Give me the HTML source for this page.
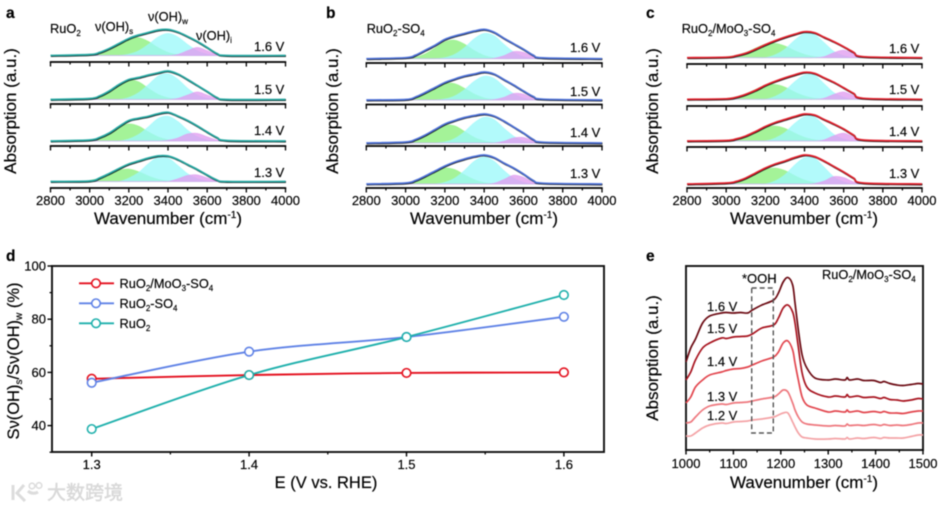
<!DOCTYPE html>
<html lang="en">
<head>
<meta charset="utf-8">
<title>Absorption spectra chart</title>
<style>
html,body{margin:0;padding:0;background:#fff;width:945px;height:509px;overflow:hidden}
svg{display:block;font-family:"Liberation Sans","Noto Sans CJK SC",sans-serif;fill:#000;filter:blur(0.4px)}
text{stroke:#000;stroke-width:.18px}
.tick{font-size:13px}
.title{font-size:17px}
.lab{font-size:12.8px}
.letter{font-size:15.5px;font-weight:bold}
</style>
</head>
<body>
<svg id="chart" xmlns="http://www.w3.org/2000/svg" width="945" height="509" viewBox="0 0 945 509">
  <g id="marks"></g>

  <text class="letter" x="6" y="18">a</text>
  <text class="letter" x="326" y="18">b</text>
  <text class="letter" x="646" y="18">c</text>
  <text class="letter" x="6" y="261">d</text>
  <text class="letter" x="646" y="261">e</text>

  <text class="title" transform="translate(16,111) rotate(-90)" text-anchor="middle">Absorption (a.u.)</text>
  <text class="title" transform="translate(338,111) rotate(-90)" text-anchor="middle">Absorption (a.u.)</text>
  <text class="title" transform="translate(658,111) rotate(-90)" text-anchor="middle">Absorption (a.u.)</text>
  <text class="title" transform="translate(658,358) rotate(-90)" text-anchor="middle">Absorption (a.u.)</text>
  <text class="title" style="font-size:16.5px" transform="translate(19,361) rotate(-90)" text-anchor="middle">Sν(OH)<tspan font-size="10" dy="3">s</tspan><tspan dy="-3">/Sν(OH)</tspan><tspan font-size="10" dy="3">w</tspan><tspan dy="-3"> (%)</tspan></text>

  <text class="title" x="168" y="224" text-anchor="middle">Wavenumber (cm<tspan font-size="10" dy="-6">-1</tspan><tspan dy="6">)</tspan></text>
  <text class="title" x="484" y="224" text-anchor="middle">Wavenumber (cm<tspan font-size="10" dy="-6">-1</tspan><tspan dy="6">)</tspan></text>
  <text class="title" x="804" y="224" text-anchor="middle">Wavenumber (cm<tspan font-size="10" dy="-6">-1</tspan><tspan dy="6">)</tspan></text>
  <text class="title" x="804" y="488" text-anchor="middle">Wavenumber (cm<tspan font-size="10" dy="-6">-1</tspan><tspan dy="6">)</tspan></text>
  <text class="title" style="font-size:16.5px" x="326" y="488" text-anchor="middle">E (V vs. RHE)</text>

  <text class="lab" x="50" y="33">RuO<tspan font-size="8" dy="3">2</tspan></text>
  <text class="lab" x="95" y="31">ν(OH)<tspan font-size="8" dy="3">s</tspan></text>
  <text class="lab" x="148" y="21">ν(OH)<tspan font-size="8" dy="3">w</tspan></text>
  <text class="lab" x="196" y="40">ν(OH)<tspan font-size="8" dy="3">i</tspan></text>
  <text class="lab" x="366.7" y="33">RuO<tspan font-size="8" dy="3">2</tspan><tspan dy="-3">-SO</tspan><tspan font-size="8" dy="3">4</tspan></text>
  <text class="lab" x="681.7" y="33">RuO<tspan font-size="8" dy="3">2</tspan><tspan dy="-3">/MoO</tspan><tspan font-size="8" dy="3">3</tspan><tspan dy="-3">-SO</tspan><tspan font-size="8" dy="3">4</tspan></text>

  <text class="lab" x="119.5" y="288">RuO<tspan font-size="8" dy="3">2</tspan><tspan dy="-3">/MoO</tspan><tspan font-size="8" dy="3">3</tspan><tspan dy="-3">-SO</tspan><tspan font-size="8" dy="3">4</tspan></text>
  <text class="lab" x="119.5" y="308">RuO<tspan font-size="8" dy="3">2</tspan><tspan dy="-3">-SO</tspan><tspan font-size="8" dy="3">4</tspan></text>
  <text class="lab" x="119.5" y="328">RuO<tspan font-size="8" dy="3">2</tspan></text>

  <text class="lab" x="822" y="279">RuO<tspan font-size="8" dy="3">2</tspan><tspan dy="-3">/MoO</tspan><tspan font-size="8" dy="3">3</tspan><tspan dy="-3">-SO</tspan><tspan font-size="8" dy="3">4</tspan></text>
  <text class="lab" style="font-size:13px" x="742" y="283">*OOH</text>
  <rect x="751.7" y="288" width="21.6" height="145" fill="none" stroke="#555" stroke-width="1.4" stroke-dasharray="5 3"/>

  <g>
    <path d="M13 485v15M24 485l-7 8 8 8M28 491a8 8 0 0 0 10 1" fill="none" stroke="#dcdcdc" stroke-width="3"/>
    <circle cx="32" cy="486" r="2.8" fill="none" stroke="#dcdcdc" stroke-width="1.6"/>
    <circle cx="39" cy="485.5" r="2.8" fill="none" stroke="#dcdcdc" stroke-width="1.6"/>
    <text x="47" y="499" font-size="19" style="fill:#d9d9d9;stroke:#d9d9d9;stroke-width:.5px;font-family:'Noto Sans CJK SC',sans-serif">大数跨境</text>
  </g>
</svg>

<script>
// ---- Panels a, b, c: wavenumber grid and per-row values (rows: 1.6, 1.5, 1.4, 1.3 V) ----
const grid = [2800,3000,3050,3100,3150,3200,3250,3300,3350,3400,3450,3500,3550,3600,3650,3700,4000];
const rowLabels = ['1.6 V','1.5 V','1.4 V','1.3 V'];
const spectraTicks = [2800,3000,3200,3400,3600,3800,4000];
const spectraMinorTicks = [2900,3100,3300,3500,3700,3900];

const aTotal = [
 [0,1,3,7,12,17,20.5,23,25.5,26,23.5,19,14,8,2,0,0],
 [0,1,3.5,8.5,15,20,22,24.5,26.7,28.5,25.5,20,14,8,2,0,0],
 [0,1,3.5,8,14.5,20.5,22.8,24.7,27.3,28.7,25,20.5,15,9,3.5,.5,0],
 [0,.5,3.5,8,13,17.5,20.5,23.5,25.7,25.5,22,17,12,6.5,1.5,0,0]];
const aGreen = [
 [0,0,1.5,4.7,10.3,16.2,17.8,14,7.7,3,.8,0,0,0,0,0,0],
 [0,1,3.3,8.4,15,19.3,17.6,11,5,1.6,.4,0,0,0,0,0,0],
 [0,.9,3.2,7.9,13.9,17,14.8,9,4,1.2,.3,0,0,0,0,0,0],
 [0,1,3.2,7.1,11.2,12.4,9.7,5.4,2.1,.7,0,0,0,0,0,0,0]];
const aCyan = [
 [0,0,0,0,0,1.3,4.6,11,18.5,22,18.5,11,4.6,1.3,0,0,0],
 [0,0,0,0,0,2,6.8,14.8,23.4,25.7,20.3,11.2,4.4,1.2,0,0,0],
 [0,0,0,0,0,2,6.5,14.2,22.5,24.7,19.5,10.8,4.2,1.1,0,0,0],
 [0,0,0,0,0,3.3,9,17.8,24.3,23.5,16,7.8,2.8,.6,0,0,0]];
const aPurple = [
 [0,0,0,0,0,0,0,0,0,0,1,4.8,8,4.8,1,0,0],
 [0,0,0,0,0,0,0,0,0,0,1,4.5,7.5,4.5,1,0,0],
 [0,0,0,0,0,0,0,0,0,.7,3,7,7.6,4.2,1.1,0,0],
 [0,0,0,0,0,0,0,0,0,0,2.6,6,6.6,3.6,1,0,0]];

const bTotal = [
 [0,1,3.5,8.5,13.5,19.3,22.7,25.3,27.7,29.3,26.5,20.5,15,9.5,3.5,.8,0],
 [0,.5,3,7.5,12.5,17.5,21,24,26,28,26,20.5,15,9,3.5,.8,0],
 [0,1,3.5,8,13.5,19,22.5,25.5,27.5,29,27,22,16,10,3.5,.8,0],
 [0,1,3.5,8,13,18,22,25,27.5,29,26.5,21,16,10,3.5,.8,0]];
const bGreen = [
 [0,.5,1.5,4.8,10.7,16.8,18.5,14.5,8,3.2,.8,0,0,0,0,0,0],
 [0,.5,2,5.8,11.6,16.3,16.3,11.6,5.8,2,.5,0,0,0,0,0,0],
 [0,.6,2.2,6.5,12.9,17.5,17.1,11.5,5.5,1.9,.5,0,0,0,0,0,0],
 [0,.8,2.7,6.9,12.5,15.9,14.4,9.1,4.2,1.3,.3,0,0,0,0,0,0]];
const bCyan = [
 [0,0,0,0,0,1,4.3,11,20,25.2,23,14.5,6.6,2,.5,0,0],
 [0,0,0,0,0,1,4,10.3,18.7,23.8,21.6,13.7,6.2,1.9,.5,0,0],
 [0,0,0,0,0,1,4.4,11.2,20.3,25.7,23.4,14.8,6.8,2,.5,0,0],
 [0,0,0,0,0,1.6,5.7,13.5,22.7,27,22.7,13.5,5.7,1.6,0,0,0]];
const bPurple = [
 [0,0,0,0,0,0,0,0,0,0,.4,2.9,7.1,6.4,2.1,.3,0],
 [0,0,0,0,0,0,0,0,0,0,.4,2.6,6.5,5.9,1.9,.3,0],
 [0,0,0,0,0,0,0,0,0,0,0,1.7,5,5.5,2.2,.3,0],
 [0,0,0,0,0,0,0,0,0,0,.7,4.5,8.8,6.7,1.6,0,0]];

const cTotal = [
 [0,.5,2,4.5,8.5,13,17,20.5,23.5,26,25,20.5,16,11,5.5,1,0],
 [0,.5,2,5,9,14,18,21.5,24.5,27,26,21.5,17,11.5,6,1,0],
 [0,.5,2,5,9.5,14.5,18.5,21.5,24.5,27,26,21.5,17,12,6,1,0],
 [0,1,2.5,6,11,16,20,23,26.5,29,27.5,23,17.5,12,6,1,0]];
const cGreen = [
 [0,.7,2.2,5.1,9.5,13.5,14.3,11.7,6.9,3.2,1,0,0,0,0,0,0],
 [0,.7,2.3,5.3,9.8,14,14.8,12.1,7.2,3.3,1,0,0,0,0,0,0],
 [0,.6,2,5,9.5,13.6,14.9,12.6,7.8,3.6,1.2,0,0,0,0,0,0],
 [0,.7,2.2,5.3,10,14.4,15.9,13.4,8.3,3.9,1.3,0,0,0,0,0,0]];
const cCyan = [
 [0,0,0,0,0,0,2.8,8.5,17.5,24,23,15,6.2,1.9,0,0,0],
 [0,0,0,0,0,0,2.8,8.5,17.5,24.2,24,15.5,6.5,2,0,0,0],
 [0,0,0,0,0,0,2.8,8.5,17.5,24.2,24,15.5,6.5,2,0,0,0],
 [0,0,0,0,0,0,3,9.2,18.9,26.2,25.8,16.8,7,2.1,0,0,0]];
const cPurple = [
 [0,0,0,0,0,0,0,0,0,0,0,1,5,7.5,4,.8,0],
 [0,0,0,0,0,0,0,0,0,0,0,1,4.9,7.3,3.9,.8,0],
 [0,0,0,0,0,0,0,0,0,0,0,1.1,5.2,7.8,4.1,.8,0],
 [0,0,0,0,0,0,0,0,0,0,.4,2.9,7.4,6.5,2.2,.4,0]];

// ---- Panel d ----
const potentials = [1.3,1.4,1.5,1.6];
const ratioMoO3 = [57.6,59,59.8,60];
const ratioSO4 = [56.1,67.8,73.3,80.9];
const ratioRuO2 = [38.7,59,73.3,89.1];
const ratioYTicks = [40,60,80,100];
const ratioYMinor = [30,50,70,90];
const ratioXMinor = [1.35,1.45,1.55];

// ---- Panel e ----
const eGrid = [1000,1010,1020,1035,1050,1075,1085,1100,1115,1130,1140,1160,1185,1195,1205,1215,1225,1230,1237,1245,1255,1272,1300,1315,1335,1340,1345,1362,1375,1396,1410,1418,1430,1445,1458,1475,1490,1500];
const e16 = [88,102,111,127,134,137,137.5,137,137.5,137,140,145,150,157,168,172.5,165,147,120,95,82,72,70,71,70,72.5,70,71,69.5,69.5,67.5,68.5,66.5,65,64.5,65.5,66.5,66];
const e15 = [70,78,90,102,107,112,111.5,113,113.5,114,116,122,125,132,142,145,138,127,103,77,63,57,53,54,53,55.5,53,54,52.5,53,51.5,52.5,50.5,50,49,50,51.5,51];
const e14 = [47,53,63,70,75,78,79.5,81,81.5,83,85,89,93,98,107,109,100,87,70,53,45,42,38,39,38,40,38,39,37.5,38.5,37.5,38.5,37,37,36.5,38,39,39];
const e13 = [27,28,33,40,44,46,45.5,47,47.5,48,49,51,53,56,60,58,47,40,33,28,26,25,24,24.5,24,26,24.5,25,24.5,25.5,24.5,25.5,24.5,25,24.5,25.5,27,27];
const e12 = [14,14,17,22,25,27,26.5,28,28.5,29,30,31,33,35,37,37,28,23,17,13,12,11,11,11.5,11,12.5,11,12,11.5,12.5,11.5,12.5,12,12,12,13.5,15,15];
const eLabels = ['1.6 V','1.5 V','1.4 V','1.3 V','1.2 V'];
const eTicks = [1000,1100,1200,1300,1400,1500];
const eMinor = [1050,1150,1250,1350,1450];

// ---- Drawing ----
const NS = 'http://www.w3.org/2000/svg';
const root = document.getElementById('marks');
function mk(tag, attrs, parent) {
  const el = document.createElementNS(NS, tag);
  for (const k in attrs) el.setAttribute(k, attrs[k]);
  (parent || root).appendChild(el);
  return el;
}
function smooth(pts) {
  let d = 'M' + pts[0][0].toFixed(2) + ' ' + pts[0][1].toFixed(2);
  for (let i = 0; i < pts.length - 1; i++) {
    const p0 = pts[Math.max(i - 1, 0)], p1 = pts[i], p2 = pts[i + 1], p3 = pts[Math.min(i + 2, pts.length - 1)];
    const c1x = p1[0] + (p2[0] - p0[0]) / 6, c1y = p1[1] + (p2[1] - p0[1]) / 6;
    const c2x = p2[0] - (p3[0] - p1[0]) / 6, c2y = p2[1] - (p3[1] - p1[1]) / 6;
    d += 'C' + c1x.toFixed(2) + ' ' + c1y.toFixed(2) + ' ' + c2x.toFixed(2) + ' ' + c2y.toFixed(2) + ' ' + p2[0].toFixed(2) + ' ' + p2[1].toFixed(2);
  }
  return d;
}

const spectraPanels = [
  {id:'a', x0:50.5, x1:285.5, axis:[62,104,146,188], base:[55.5,99.5,141,181.5], labelX:254, labelY:[51,94,135,177], color:'#25a8a2', total:aTotal, green:aGreen, cyan:aCyan, purple:aPurple},
  {id:'b', x0:366.3, x1:602, axis:[63,104.5,146,188], base:[58.7,100,143,184], labelX:570, labelY:[52,96,137,178], color:'#4c70d6', total:bTotal, green:bGreen, cyan:bCyan, purple:bPurple},
  {id:'c', x0:687, x1:922, axis:[64,106,147,188], base:[57.7,99.3,141,184], labelX:889, labelY:[53,94,136,178], color:'#e0202c', total:cTotal, green:cGreen, cyan:cCyan, purple:cPurple}
];

spectraPanels.forEach(function (p) {
  const xScale = function (w) { return p.x0 + (w - 2800) / 1200 * (p.x1 - p.x0); };
  rowLabels.forEach(function (label, r) {
    const yScale = function (v) { return p.base[r] - v; };
    const comps = [['green', p.green[r], '#8df07e', 0.8], ['cyan', p.cyan[r], '#9cf8fa', 0.78], ['purple', p.purple[r], '#e09cf0', 0.78]];
    comps.forEach(function (c) {
      const pts = grid.map(function (w, i) { return [xScale(w), yScale(c[1][i])]; }).filter(function (q, i) { return grid[i] >= 3000 && grid[i] <= 3700; });
      const d = smooth(pts) + 'L' + xScale(3700) + ' ' + yScale(0) + 'L' + xScale(3000) + ' ' + yScale(0) + 'Z';
      const area = mk('path', {d: d, fill: c[2], 'fill-opacity': c[3], stroke: c[2], 'stroke-width': 0.9, 'stroke-opacity': 0.6});
      
      
    });
    const pts = grid.map(function (w, i) { return [xScale(w), yScale(p.total[r][i])]; });
    const raw = mk('path', {d: smooth(pts), fill: 'none', stroke: '#111', 'stroke-width': 1.9, transform: 'translate(0.4,0.5)'});
    
    
    const fit = mk('path', {d: smooth(pts), fill: 'none', stroke: p.color, 'stroke-width': 1.7});
    
    

    const ay = p.axis[r];
    const axis = mk('line', {x1: p.x0 - 0.7, x2: p.x1 + 0.7, y1: ay, y2: ay, stroke: '#000', 'stroke-width': 1.7});
    
    
    spectraTicks.forEach(function (t) {
      const tk = mk('line', {x1: xScale(t), x2: xScale(t), y1: ay, y2: ay + 4.5, stroke: '#000', 'stroke-width': 1.3});
      
      
    });
    spectraMinorTicks.forEach(function (t) {
      const tk = mk('line', {x1: xScale(t), x2: xScale(t), y1: ay, y2: ay + 2.5, stroke: '#000', 'stroke-width': 1.2});
      
      
    });
    const lb = mk('text', {x: p.labelX, y: p.labelY[r], 'font-size': 13});
    lb.textContent = label;
    
    
  });
  spectraTicks.forEach(function (t) {
    const tl = mk('text', {x: xScale(t), y: 205, 'text-anchor': 'middle', 'class': 'tick'});
    tl.textContent = t;
    
    
  });
});

// Panel d
const dX = function (e) { return 91.7 + (e - 1.3) / 0.1 * 157.4; };
const dY = function (v) { return 266 + (100 - v) * 2.66; };
const dFrame = mk('rect', {x: 52, y: 266, width: 552, height: 186, fill: 'none', stroke: '#111', 'stroke-width': 1.9});


ratioYTicks.forEach(function (v) {
  const tk = mk('line', {x1: 47.5, x2: 52, y1: dY(v), y2: dY(v), stroke: '#000', 'stroke-width': 1.4});
  
  
  const tl = mk('text', {x: 46, y: dY(v) + 4.5, 'text-anchor': 'end', 'class': 'tick'});
  tl.textContent = v;
  
  
});
ratioYMinor.forEach(function (v) {
  const tk = mk('line', {x1: 49.5, x2: 52, y1: dY(v), y2: dY(v), stroke: '#000', 'stroke-width': 1.2});
  
  
});
potentials.forEach(function (e) {
  const tk = mk('line', {x1: dX(e), x2: dX(e), y1: 452, y2: 456.5, stroke: '#000', 'stroke-width': 1.4});
  
  
  const tl = mk('text', {x: dX(e), y: 469, 'text-anchor': 'middle', 'class': 'tick'});
  tl.textContent = e.toFixed(1);
  
  
});
ratioXMinor.forEach(function (e) {
  const tk = mk('line', {x1: dX(e), x2: dX(e), y1: 452, y2: 454.5, stroke: '#000', 'stroke-width': 1.2});
  
  
});
const dSeries = [
  {key: 'ruo2-moo3-so4', vals: ratioMoO3, color: '#e4111f', ly: 283.3},
  {key: 'ruo2-so4', vals: ratioSO4, color: '#5f82e6', ly: 303.3},
  {key: 'ruo2', vals: ratioRuO2, color: '#1fb0ac', ly: 323.3}
];
dSeries.forEach(function (s) {
  const pts = potentials.map(function (e, i) { return [dX(e), dY(s.vals[i])]; });
  const line = mk('path', {d: smooth(pts), fill: 'none', stroke: s.color, 'stroke-width': 1.9});
  
  
  const ll = mk('line', {x1: 79, x2: 114, y1: s.ly, y2: s.ly, stroke: s.color, 'stroke-width': 1.9});
  
  
  const lm = mk('circle', {cx: 96, cy: s.ly, r: 4.3, fill: '#fff', stroke: s.color, 'stroke-width': 1.6});
  
  
});
dSeries.forEach(function (s) {
  potentials.forEach(function (e, i) {
    const pt = mk('circle', {cx: dX(e), cy: dY(s.vals[i]), r: 4.3, fill: '#fff', stroke: s.color, 'stroke-width': 1.6});
    
    
  });
});

// Panel e
const eX = function (w) { return 686 + (w - 1000) / 500 * 237; };
const eY = function (v) { return 450 - v; };
const eFrame = mk('rect', {x: 686, y: 266, width: 237, height: 184, fill: 'none', stroke: '#111', 'stroke-width': 1.9});


eTicks.forEach(function (t) {
  const tk = mk('line', {x1: eX(t), x2: eX(t), y1: 450, y2: 454.5, stroke: '#000', 'stroke-width': 1.4});
  
  
  const tl = mk('text', {x: eX(t), y: 468, 'text-anchor': 'middle', 'class': 'tick'});
  tl.textContent = t;
  
  
});
eMinor.forEach(function (t) {
  const tk = mk('line', {x1: eX(t), x2: eX(t), y1: 450, y2: 452.5, stroke: '#000', 'stroke-width': 1.2});
  
  
});
const eSeries = [[e12, '#f4a3a6'], [e13, '#ee787e'], [e14, '#e2464e'], [e15, '#a81520'], [e16, '#6b0a12']];
eSeries.forEach(function (s, i) {
  const pts = eGrid.map(function (w, j) { return [eX(w), eY(s[0][j])]; });
  const line = mk('path', {d: smooth(pts), fill: 'none', stroke: s[1], 'stroke-width': 1.7});
  
  
});
const eLabelY = [311, 333, 366, 401, 420];
eLabels.forEach(function (t, i) {
  const lb = mk('text', {x: 707, y: eLabelY[i], 'font-size': 13});
  lb.textContent = t;
  
  
});
</script>
</body>
</html>
